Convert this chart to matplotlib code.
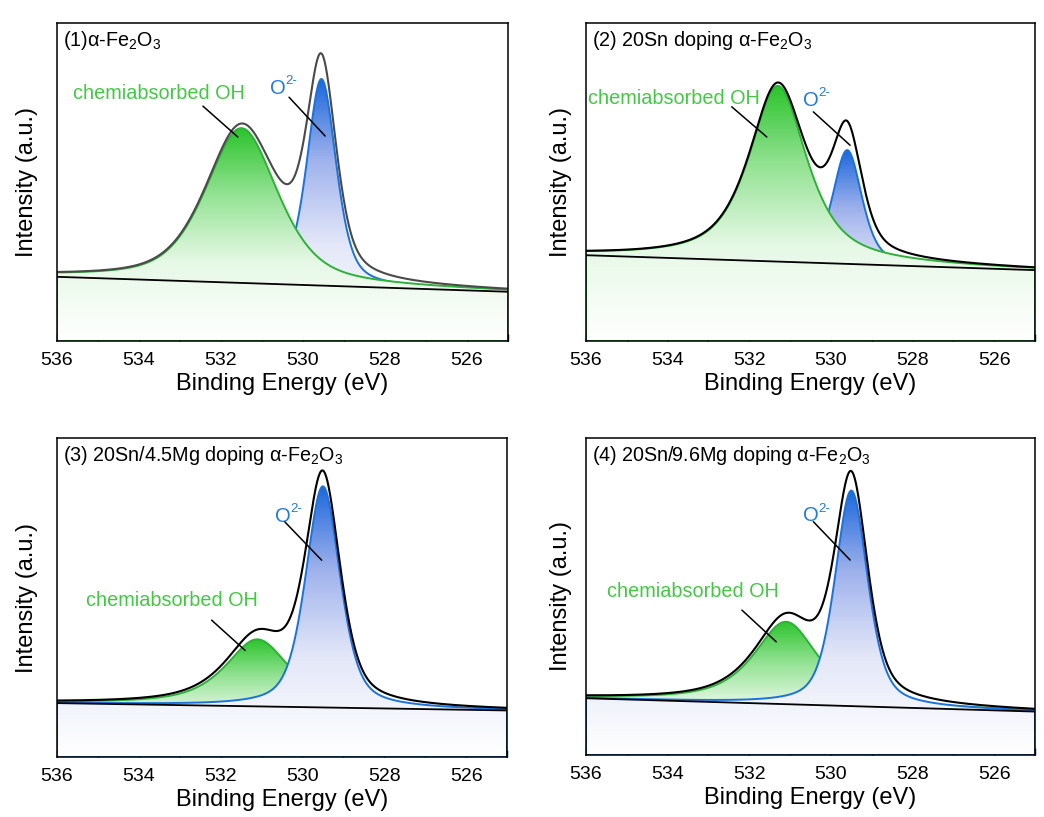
import numpy as np
import matplotlib
matplotlib.use("Agg")
import matplotlib.pyplot as plt
from matplotlib.colors import LinearSegmentedColormap
from matplotlib.path import Path
from matplotlib.patches import PathPatch
from matplotlib.ticker import MultipleLocator

plt.rcParams["font.family"] = ["Liberation Sans", "DejaVu Sans"]
plt.rcParams["mathtext.fontset"] = "custom"
plt.rcParams["mathtext.rm"] = "Liberation Sans"
plt.rcParams["mathtext.it"] = "Liberation Sans:italic"

# O 1s fits for the four samples (intensity in arbitrary units, axis 0-100)
sample_labels = [
    "(1)α-Fe$_2$O$_3$",
    "(2) 20Sn doping α-Fe$_2$O$_3$",
    "(3) 20Sn/4.5Mg doping α-Fe$_2$O$_3$",
    "(4) 20Sn/9.6Mg doping α-Fe$_2$O$_3$",
]
oh_center = [531.5, 531.3, 531.1, 531.1]
oh_height = [48.7, 55.3, 21.0, 26.0]
oh_fwhm = [2.1, 1.7, 1.9, 1.9]
oh_eta = [0.55, 0.75, 0.8, 0.8]
o2_center = [529.55, 529.6, 529.5, 529.5]
o2_height = [65.0, 35.8, 69.3, 68.0]
o2_fwhm = [0.85, 0.85, 1.0, 0.95]
o2_eta = [0.5, 0.5, 0.5, 0.5]
bg_536 = [20.2, 27.0, 16.9, 17.9]
bg_525 = [15.5, 22.3, 14.6, 13.7]

# drawing order and label placement
o2_on_top = [False, False, True, True]
axes_rects = [
    [0.0546, 0.5826, 0.432, 0.389],
    [0.5613, 0.5826, 0.4301, 0.389],
    [0.0546, 0.0734, 0.431, 0.3905],
    [0.5613, 0.0759, 0.4301, 0.388],
]
oh_text_pos = [(535.6, 78.0), (535.95, 76.4), (535.3, 49.1), (535.49, 51.5)]
oh_line = [((532.44, 73.9), (531.59, 64.2)), ((532.43, 73.7), (531.57, 64.2)),
           ((532.22, 42.9), (531.40, 33.4)), ((532.18, 45.7), (531.34, 35.7))]
o2_text_pos = [(530.8, 79.5), (530.68, 75.8), (530.67, 75.5), (530.68, 75.5)]
o2_line = [((530.34, 76.7), (529.46, 64.5)), ((530.43, 72.1), (529.53, 61.6)),
           ((530.43, 73.7), (529.53, 61.7)), ((530.43, 73.6), (529.53, 61.5))]
envelope_colors = ["#4a4a4a", "black", "black", "black"]

GREEN_EDGE = "#2fb03a"
GREEN_TEXT = "#44c844"
GREEN_RAMP = ["white", "#e6f8e6", "#93e293", "#2cc42c"]
BLUE_EDGE = "#1a72dc"
BLUE_TEXT = "#1f7ae0"
BLUE_RAMP = ["white", "#e3e7f8", "#9fb2ec", "#1d68dc"]


def pseudo_voigt(x, center, height, fwhm, eta):
    u = (x - center) / fwhm
    gauss = np.exp(-4 * np.log(2) * u ** 2)
    lorentz = 1 / (1 + 4 * u ** 2)
    return height * (eta * lorentz + (1 - eta) * gauss)


def gradient_fill(ax, x, y, ramp, edgecolor, zorder):
    verts = np.column_stack([np.r_[x, x[-1], x[0], x[0]], np.r_[y, 0, 0, y[0]]])
    edge = PathPatch(Path(verts, closed=True), facecolor="none",
                     edgecolor=edgecolor, lw=1.4, zorder=zorder + 0.1)
    ax.add_patch(edge)
    cmap = LinearSegmentedColormap.from_list("fade", ramp)
    grad = (np.linspace(0, 1, 256) ** 1.1).reshape(-1, 1)
    im = ax.imshow(grad, cmap=cmap, aspect="auto", origin="lower",
                   extent=[x[0], x[-1], 0, y.max()], zorder=zorder)
    im.set_clip_path(edge)


energy = np.linspace(536, 525, 800)
fig = plt.figure(figsize=(10.44, 8.17), dpi=100)

for i in range(4):
    ax = fig.add_axes(axes_rects[i])
    baseline = bg_536[i] + (bg_525[i] - bg_536[i]) * (536 - energy) / 11.0
    oh = pseudo_voigt(energy, oh_center[i], oh_height[i], oh_fwhm[i], oh_eta[i])
    o2 = pseudo_voigt(energy, o2_center[i], o2_height[i], o2_fwhm[i], o2_eta[i])

    if o2_on_top[i]:
        gradient_fill(ax, energy, baseline + oh, GREEN_RAMP, GREEN_EDGE, 2)
        gradient_fill(ax, energy, baseline + o2, BLUE_RAMP, BLUE_EDGE, 3)
    else:
        gradient_fill(ax, energy, baseline + o2, BLUE_RAMP, BLUE_EDGE, 2)
        gradient_fill(ax, energy, baseline + oh, GREEN_RAMP, GREEN_EDGE, 3)

    ax.plot(energy, baseline + oh + o2, color=envelope_colors[i], lw=1.5, zorder=5)
    ax.plot(energy, baseline, color="black", lw=1.3, zorder=5)

    ax.text(0.013, 0.945, sample_labels[i], transform=ax.transAxes,
            fontsize=14.2, ha="left", va="center", zorder=6)
    ax.text(*oh_text_pos[i], "chemiabsorbed OH", color=GREEN_TEXT,
            fontsize=14.3, ha="left", va="center", zorder=6)
    ax.text(*o2_text_pos[i], "O", color=BLUE_TEXT,
            fontsize=14.5, ha="left", va="center", zorder=6)
    ax.annotate("2-", xy=o2_text_pos[i], xytext=(11, 5), textcoords="offset points",
                color=BLUE_TEXT, fontsize=9.5, ha="left", va="center", zorder=6)
    for (start, end) in (oh_line[i], o2_line[i]):
        ax.annotate("", xy=end, xytext=start,
                    arrowprops=dict(arrowstyle="-", color="black", lw=1.1,
                                    shrinkA=0, shrinkB=0), zorder=6)

    ax.set_xlim(536, 525)
    ax.set_ylim(0, 100)
    ax.xaxis.set_major_locator(MultipleLocator(2))
    ax.xaxis.set_minor_locator(MultipleLocator(1))
    ax.tick_params(axis="x", which="both", direction="in", labelsize=14, pad=8)
    ax.tick_params(axis="x", which="major", length=5, width=1)
    ax.tick_params(axis="x", which="minor", length=5, width=1)
    ax.set_yticks([])
    for spine in ax.spines.values():
        spine.set_linewidth(1.1)
        spine.set_zorder(10)
    ax.set_xlabel("Binding Energy (eV)", fontsize=17, labelpad=3)
    ax.set_ylabel("Intensity (a.u.)", fontsize=17, labelpad=14 if i % 2 == 0 else 10)

fig.savefig("out.png", dpi=100)
